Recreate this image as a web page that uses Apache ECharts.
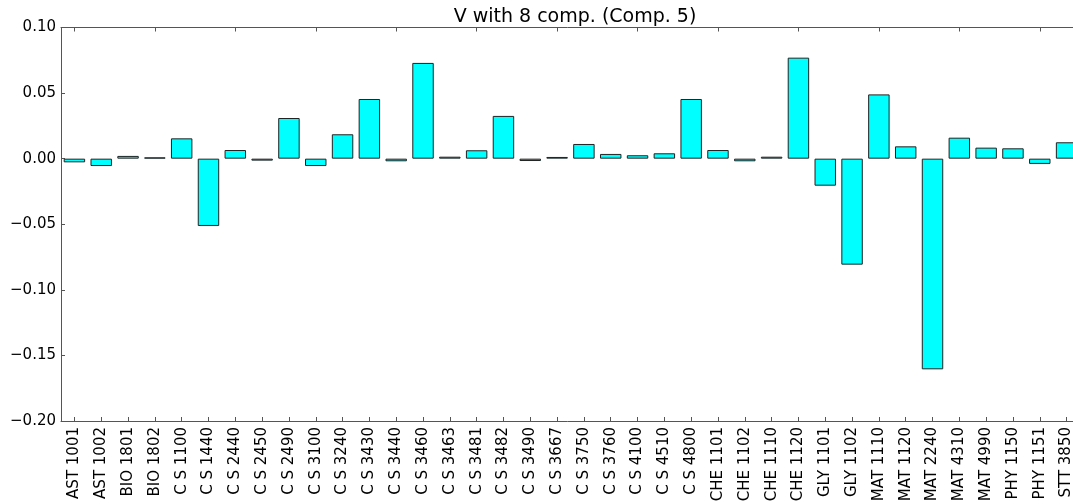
<!DOCTYPE html>
<html>
<head>
<meta charset="utf-8">
<script src="https://cdn.jsdelivr.net/npm/echarts@6/dist/echarts.min.js"></script>
<style>html,body{margin:0;padding:0;background:#fff}#c{width:1073px;height:504px}</style>
</head>
<body>
<div id="c"></div>
<script>
const categories = ["AST 1001","AST 1002","BIO 1801","BIO 1802","C S 1100","C S 1440","C S 2440","C S 2450","C S 2490","C S 3100","C S 3240","C S 3430","C S 3440","C S 3460","C S 3463","C S 3481","C S 3482","C S 3490","C S 3667","C S 3750","C S 3760","C S 4100","C S 4510","C S 4800","CHE 1101","CHE 1102","CHE 1110","CHE 1120","GLY 1101","GLY 1102","MAT 1110","MAT 1120","MAT 2240","MAT 4310","MAT 4990","PHY 1150","PHY 1151","STT 3850"];
const values = [-0.0028,-0.0056,0.0021,0.001,0.0155,-0.0513,0.0066,-0.0015,0.031,-0.0056,0.0186,0.0455,-0.002,0.073,0.0015,0.0064,0.0326,-0.0018,0.0013,0.0112,0.0036,0.0026,0.0041,0.0455,0.0066,-0.002,0.0015,0.077,-0.0206,-0.0808,0.049,0.0094,-0.1606,0.016,0.0084,0.0079,-0.004,0.0125];
const yTicks = {min:-0.20, max:0.10, interval:0.05};
const title = "V with 8 comp. (Comp. 5)";

const chart = echarts.init(document.getElementById('c'), null, {renderer:'canvas'});
const axisCol = '#555';
const font = 'DejaVu Sans';
chart.setOption({
  animation:false,
  title:{text:title, left:570, textAlign:'center', top:3, textStyle:{fontFamily:font, fontSize:19, fontWeight:'normal', color:'#000'}},
  grid:{left:61, top:27.5, width:1019, height:393.5, containLabel:false, outerBoundsMode:'none'},
  xAxis:[{
    type:'category', data:categories, position:'bottom',
    axisLine:{onZero:false, lineStyle:{color:axisCol, width:1}},
    axisTick:{show:true, inside:true, length:4, alignWithLabel:true, lineStyle:{color:axisCol}},
    axisLabel:{rotate:90, interval:0, fontFamily:font, fontSize:15, color:'#000', margin:6}
  },{
    type:'category', data:categories, position:'top',
    axisLine:{onZero:false, lineStyle:{color:axisCol, width:1}},
    axisTick:{show:true, inside:true, length:4, alignWithLabel:true, lineStyle:{color:axisCol}},
    axisLabel:{show:false}
  }],
  yAxis:[{
    type:'value', min:yTicks.min, max:yTicks.max, interval:yTicks.interval, position:'left',
    axisLine:{show:true, lineStyle:{color:axisCol, width:1}},
    axisTick:{show:true, inside:true, length:4, lineStyle:{color:axisCol}},
    splitLine:{show:false},
    axisLabel:{fontFamily:font, fontSize:15, color:'#000', margin:5,
      formatter:v=>v.toFixed(2).replace('-','\u2212')}
  },{
    type:'value', min:yTicks.min, max:yTicks.max, interval:yTicks.interval, position:'right',
    axisLine:{show:true, lineStyle:{color:axisCol, width:1}},
    axisTick:{show:true, inside:true, length:4, lineStyle:{color:axisCol}},
    splitLine:{show:false}, axisLabel:{show:false}
  }],
  series:[{
    type:'bar', data:values, xAxisIndex:0, yAxisIndex:0, barWidth:'80%',
    itemStyle:{color:'#00ffff', borderColor:'#222', borderWidth:1}
  }]
});
</script>
</body>
</html>
